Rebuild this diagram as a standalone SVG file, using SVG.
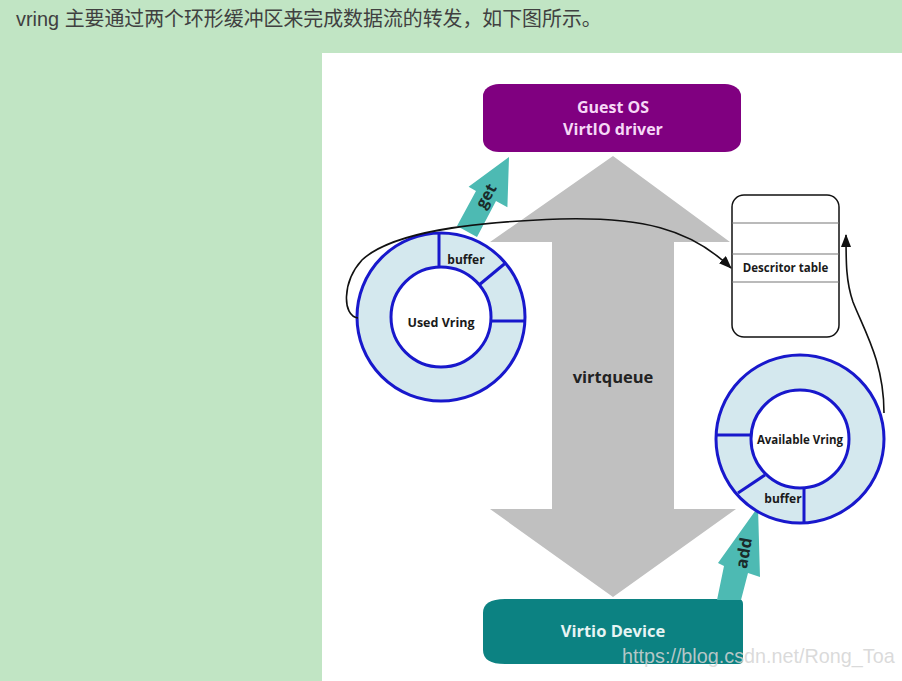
<svg xmlns="http://www.w3.org/2000/svg" width="902" height="681" viewBox="0 0 902 681">
<defs>
<style>
.lbl{font-family:"Open Sans","DejaVu Sans",sans-serif;font-weight:bold;text-anchor:middle}
.ring{fill:#d4e8ee;stroke:#1818cc;stroke-width:3}
.hole{fill:#ffffff;stroke:#1818cc;stroke-width:3}
.seg{stroke:#1818cc;stroke-width:3;fill:none}
.conn{fill:none;stroke:#111111;stroke-width:1.6}
.teal{fill:#4dbab3}
</style>
<marker id="ah" markerWidth="13" markerHeight="10" refX="12" refY="5" orient="auto" markerUnits="userSpaceOnUse">
<path d="M0,0 L13,5 L0,10 z" fill="#111111"/>
</marker>
</defs>
<rect x="0" y="0" width="902" height="681" fill="#c1e5c4"/>
<rect x="322" y="53" width="580" height="628" fill="#ffffff"/>
<text x="16" y="26" font-family="'Liberation Sans','Noto Sans CJK SC',sans-serif" font-size="19.9" fill="#404040">vring 主要通过两个环形缓冲区来完成数据流的转发，如下图所示。</text>

<g id="virtqueue">
<path d="M613,156 L730,242 L674,242 L674,509 L736,509 L613,597 L490,509 L552,509 L552,242 L490,242 Z" fill="#c0c0c0"/>
<text class="lbl" x="613" y="383" font-size="16.5" fill="#222222">virtqueue</text>
</g>

<g id="guest-os">
<rect x="483" y="84" width="258" height="68" rx="16" ry="12" fill="#800080"/>
<text class="lbl" x="613" y="113" font-size="16" fill="#f6d8f6">Guest OS</text>
<text class="lbl" x="613" y="135" font-size="16" fill="#f6d8f6">VirtIO driver</text>
</g>

<g id="virtio-device">
<path d="M505,599 L738,599 Q743,599 743,604 L743,660 Q743,664 738,664 L505,664 Q483,664 483,650 L483,613 Q483,599 505,599 Z" fill="#0c8282"/>
<text class="lbl" x="613" y="637" font-size="16.5" fill="#e6f4f4">Virtio Device</text>
</g>

<g id="get-arrow">
<path d="M509,157 L507.4,207.3 L496,201 L477,237 L457,226 L476,191 L468.6,186.7 Z" class="teal"/>
<text class="lbl" x="0" y="0" font-size="16" fill="#1a2a2a" transform="translate(486,196) rotate(-60)" dy="5.5">get</text>
</g>

<g id="add-arrow">
<path d="M758,507 L760,577 L748,573 L741,600 L717,600 L724,566 L718,563 Z" class="teal"/>
<text class="lbl" x="0" y="0" font-size="16.5" fill="#1a2a2a" transform="translate(744,553) rotate(-80)" dy="5.5">add</text>
</g>

<g id="used-vring">
<circle cx="441" cy="317" r="84" class="ring"/>
<circle cx="441" cy="317" r="50" class="hole"/>
<line x1="439" y1="233.5" x2="439" y2="267.5" class="seg"/>
<line x1="479" y1="285" x2="505.5" y2="263" class="seg"/>
<line x1="490.5" y1="321" x2="525" y2="321" class="seg"/>
<text class="lbl" x="466" y="264" font-size="12" fill="#1a1a1a">buffer</text>
<text class="lbl" x="441" y="327" font-size="12.5" fill="#1a1a1a">Used Vring</text>
</g>

<g id="descriptor-table">
<rect x="732" y="195" width="107" height="142" rx="12" fill="#ffffff" stroke="#111111" stroke-width="1.5"/>
<line x1="732" y1="223" x2="839" y2="223" stroke="#777777" stroke-width="1.2"/>
<line x1="732" y1="254" x2="839" y2="254" stroke="#777777" stroke-width="1.2"/>
<line x1="732" y1="282" x2="839" y2="282" stroke="#777777" stroke-width="1.2"/>
<text class="lbl" x="785.5" y="272" font-size="11.5" fill="#1a1a1a">Descritor table</text>
</g>

<g id="available-vring">
<circle cx="800" cy="439" r="84" class="ring"/>
<circle cx="800" cy="439" r="49" class="hole"/>
<line x1="716" y1="435" x2="751" y2="435" class="seg"/>
<line x1="765" y1="475" x2="738" y2="493" class="seg"/>
<line x1="804" y1="488" x2="804" y2="523" class="seg"/>
<text class="lbl" x="800" y="444" font-size="11.5" fill="#1a1a1a">Available Vring</text>
<text class="lbl" x="783" y="503" font-size="12" fill="#1a1a1a">buffer</text>
</g>

<g id="connectors">
<path class="conn" d="M358,318 C342,316 342,282 362,260 C392,232 470,222 560,219 C640,217 690,228 731,268" marker-end="url(#ah)"/>
<path class="conn" d="M884,413 C884,362 864,330 853,302 C846,282 846,262 846,235" marker-end="url(#ah)"/>
</g>

<text x="622" y="663" font-family="'Liberation Sans',Arial,sans-serif" font-size="19.8" fill="#d4d4d4" fill-opacity="0.85">https://blog.csdn.net/Rong_Toa</text>
</svg>
